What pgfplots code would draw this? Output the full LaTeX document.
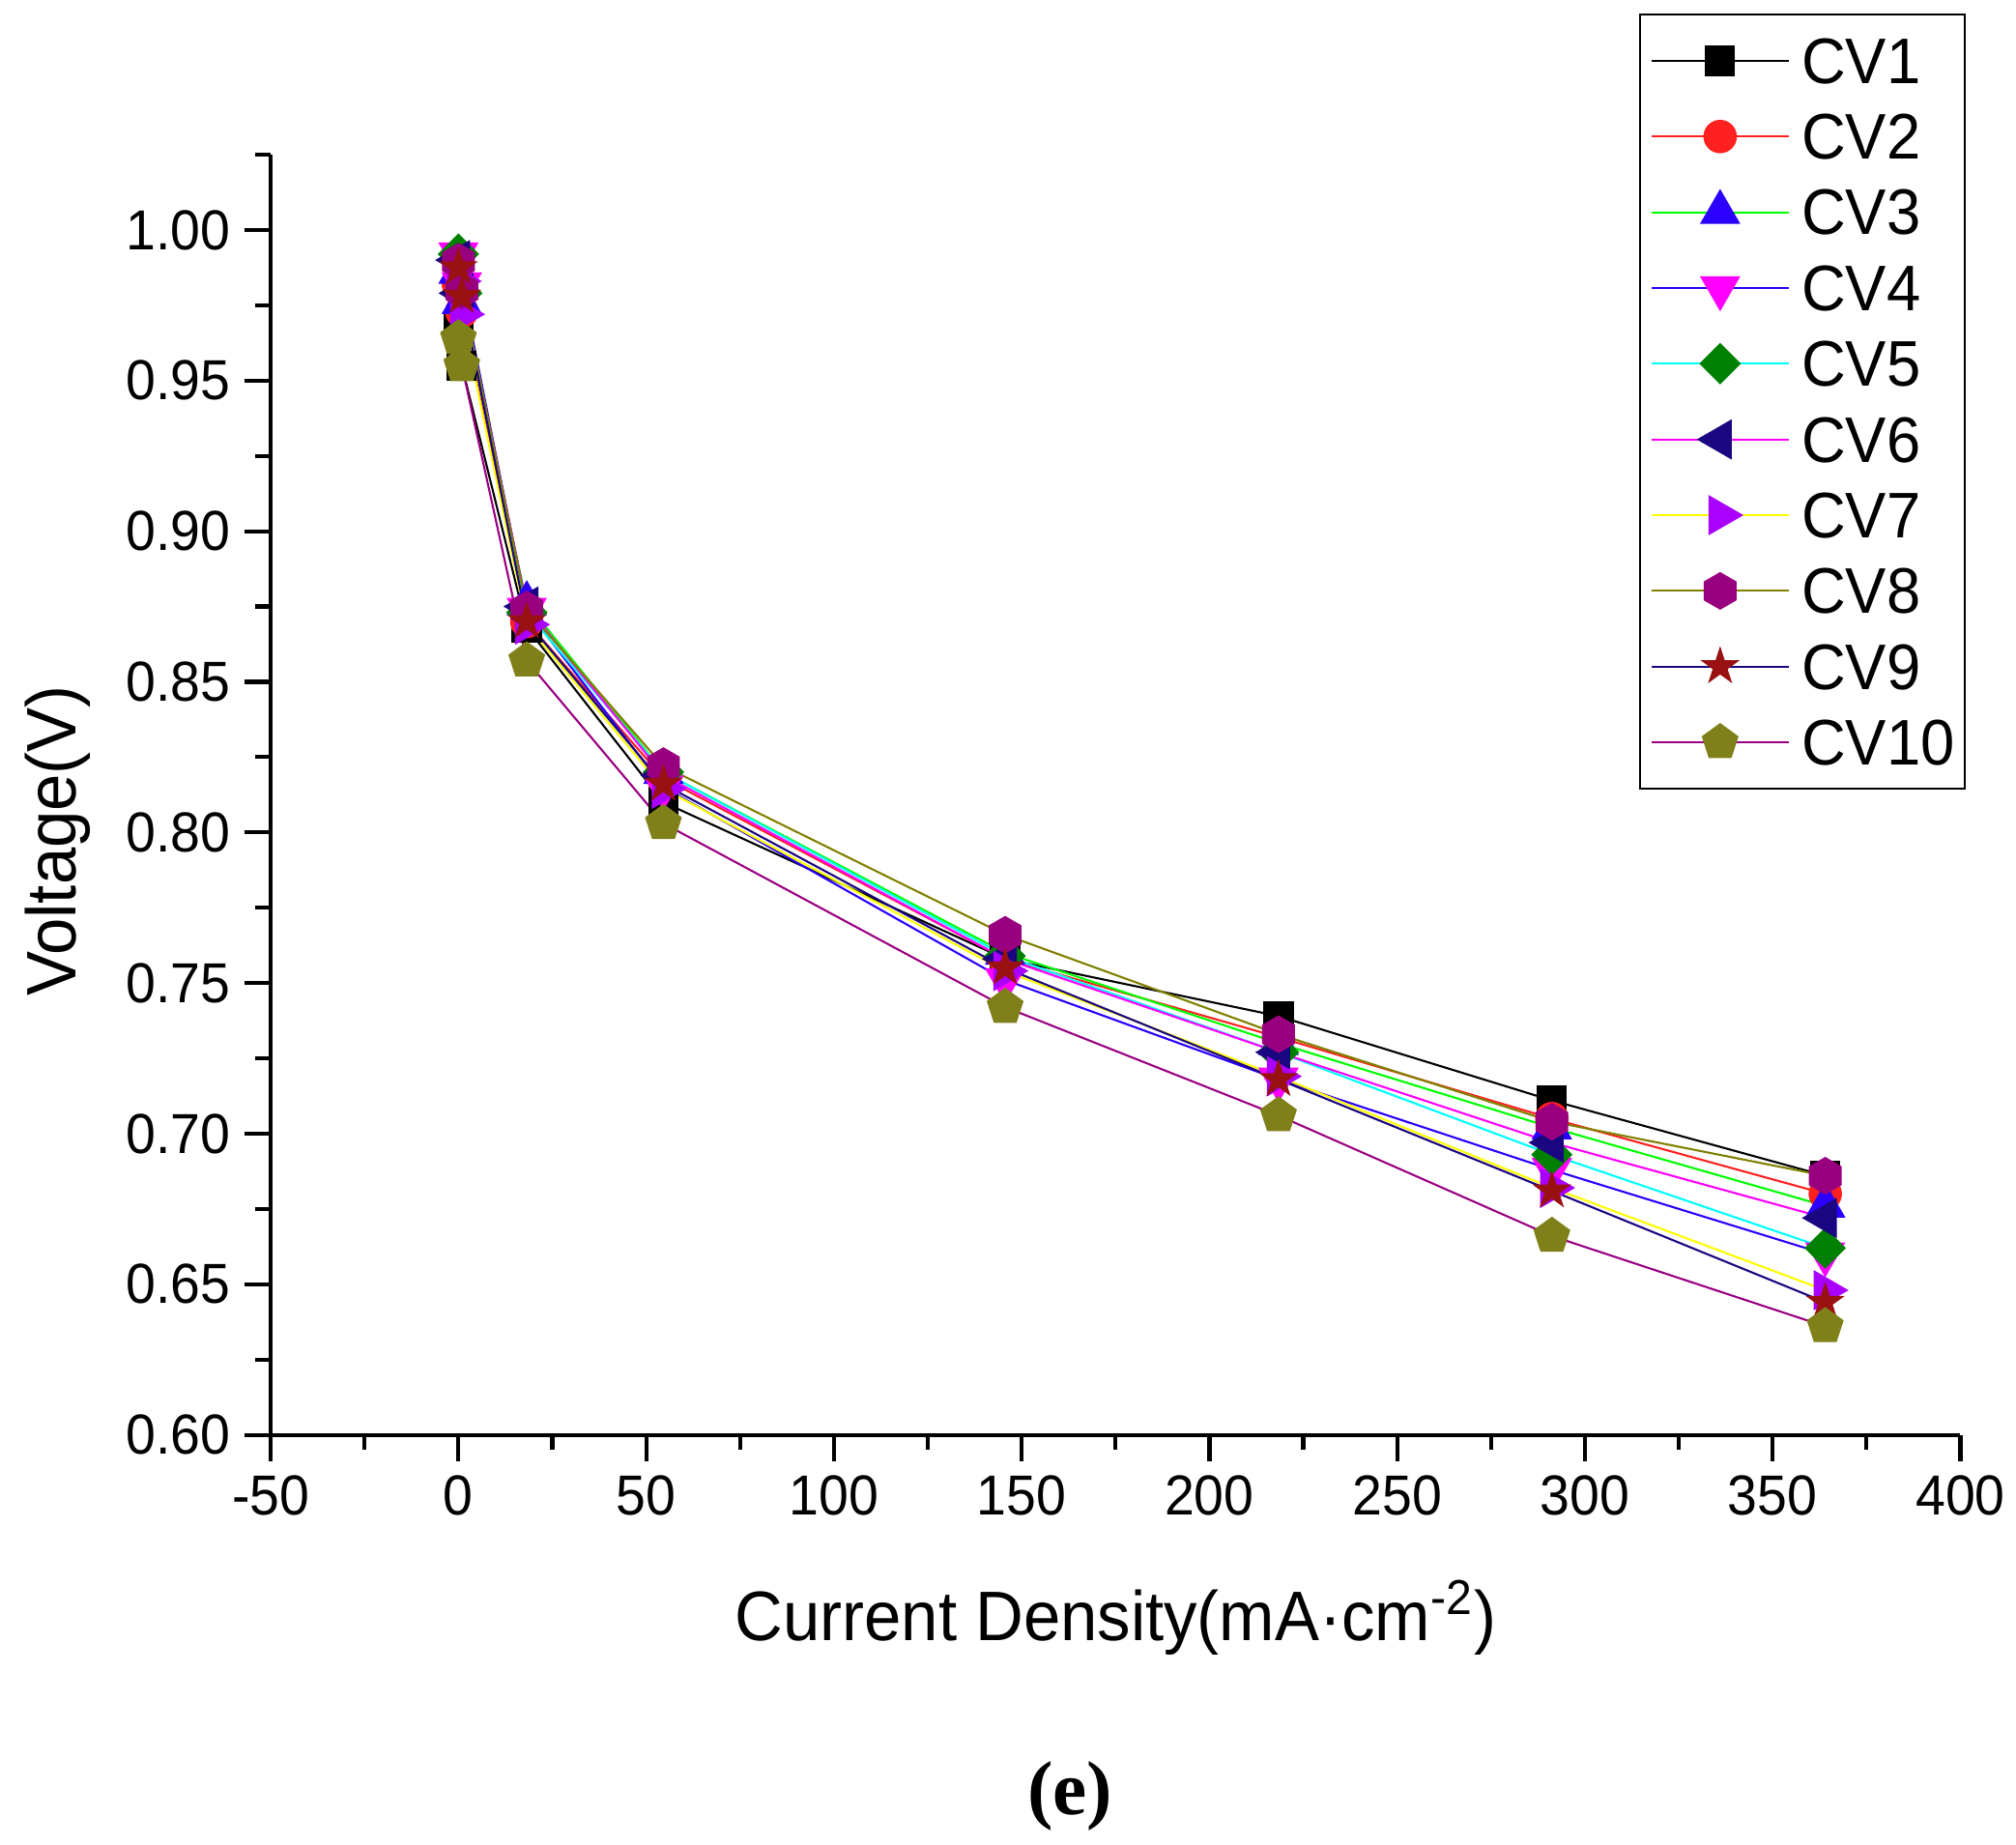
\documentclass[border=0pt]{standalone}
\usepackage{fontspec}
\setmainfont{Liberation Sans}[FakeStretch=0.95]
\newfontfamily\serifbold{Liberation Serif}
\usepackage{pgfplots}
\pgfplotsset{compat=1.18}
\usetikzlibrary{plotmarks}

\definecolor{cvred}{RGB}{255,32,32}
\definecolor{cvblue}{RGB}{43,0,255}
\definecolor{cvgreenline}{RGB}{0,255,0}
\definecolor{cvmagenta}{RGB}{255,0,255}
\definecolor{cvgreen}{RGB}{0,128,0}
\definecolor{cvcyan}{RGB}{0,255,255}
\definecolor{cvnavy}{RGB}{26,6,128}
\definecolor{cvyellow}{RGB}{255,255,0}
\definecolor{cvviolet}{RGB}{170,0,255}
\definecolor{cvoliveline}{RGB}{128,128,0}
\definecolor{cvpurple}{RGB}{153,0,128}
\definecolor{cvwine}{RGB}{153,17,17}
\definecolor{cvolive}{RGB}{128,128,26}

\pgfdeclareplotmark{hexa*}{%
  \pgfpathmoveto{\pgfpointpolar{90}{\pgfplotmarksize}}%
  \pgfpathlineto{\pgfpointpolar{150}{\pgfplotmarksize}}%
  \pgfpathlineto{\pgfpointpolar{210}{\pgfplotmarksize}}%
  \pgfpathlineto{\pgfpointpolar{270}{\pgfplotmarksize}}%
  \pgfpathlineto{\pgfpointpolar{330}{\pgfplotmarksize}}%
  \pgfpathlineto{\pgfpointpolar{30}{\pgfplotmarksize}}%
  \pgfpathclose\pgfusepathqfillstroke}
\pgfdeclareplotmark{fstar*}{%
  \pgfpathmoveto{\pgfpointpolar{90}{\pgfplotmarksize}}%
  \pgfpathlineto{\pgfpointpolar{126}{0.382*\pgfplotmarksize}}%
  \pgfpathlineto{\pgfpointpolar{162}{\pgfplotmarksize}}%
  \pgfpathlineto{\pgfpointpolar{198}{0.382*\pgfplotmarksize}}%
  \pgfpathlineto{\pgfpointpolar{234}{\pgfplotmarksize}}%
  \pgfpathlineto{\pgfpointpolar{270}{0.382*\pgfplotmarksize}}%
  \pgfpathlineto{\pgfpointpolar{306}{\pgfplotmarksize}}%
  \pgfpathlineto{\pgfpointpolar{342}{0.382*\pgfplotmarksize}}%
  \pgfpathlineto{\pgfpointpolar{18}{\pgfplotmarksize}}%
  \pgfpathlineto{\pgfpointpolar{54}{0.382*\pgfplotmarksize}}%
  \pgfpathclose\pgfusepathqfillstroke}
\pgfdeclareplotmark{sqdiamond*}{%
  \pgfpathmoveto{\pgfqpoint{0pt}{\pgfplotmarksize}}%
  \pgfpathlineto{\pgfqpoint{\pgfplotmarksize}{0pt}}%
  \pgfpathlineto{\pgfqpoint{0pt}{-\pgfplotmarksize}}%
  \pgfpathlineto{\pgfqpoint{-\pgfplotmarksize}{0pt}}%
  \pgfpathclose\pgfusepathqfillstroke}

\pgfplotstableread{
x     cv1    cv2    cv3    cv4    cv5    cv6    cv7    cv8    cv9    cv10
0     0.967  0.982  0.986  0.992  0.992  0.990  0.983  0.9895 0.9875 0.964
0.9   0.955  0.973  0.976  0.982  0.979  0.979  0.972  0.980  0.978  0.955
18.2  0.868  0.870  0.876  0.874  0.873  0.875  0.869  0.874  0.870  0.857
54.6  0.810  0.818  0.820  0.815  0.820  0.819  0.8145 0.822  0.816  0.803
145.6 0.758  0.758  0.760  0.751  0.759  0.758  0.754  0.766  0.755  0.742
218.4 0.739  0.732  0.730  0.718  0.727  0.727  0.719  0.733  0.718  0.706
291.2 0.711  0.705  0.702  0.688  0.693  0.697  0.682  0.704  0.681  0.666
364   0.686  0.680  0.676  0.660  0.662  0.672  0.648  0.686  0.644  0.636
}\datatable

\begin{document}
\begin{tikzpicture}
\path[use as bounding box] (-67.2pt,-101.8pt) rectangle (433.3pt,356.2pt);
\begin{axis}[
  scale only axis, width=419.5pt, height=317.8pt,
  xmin=-50, xmax=400, ymin=0.6, ymax=1.025,
  axis x line*=bottom, axis y line*=left,
  axis line style={line width=1pt, black},
  xtick={-50,0,50,100,150,200,250,300,350,400},
  minor xtick={-25,25,75,125,175,225,275,325,375},
  ytick={0.60,0.65,0.70,0.75,0.80,0.85,0.90,0.95,1.00},
  minor ytick={0.625,0.675,0.725,0.775,0.825,0.875,0.925,0.975,1.025},
  tick align=outside,
  major tick length=6.5pt, minor tick length=3.8pt,
  every tick/.style={black, line width=1pt},
  tick label style={font=\fontsize{14}{16}\selectfont},
  /pgf/number format/assume math mode=true,
  yticklabel style={/pgf/number format/.cd, fixed, fixed zerofill, precision=2},
  xticklabel style={/pgf/number format/.cd, fixed, precision=0},
  every axis x label/.style={at={(axis description cs:0.5,0)}, anchor=center, yshift=-45.4pt, font=\fontsize{17.4}{20}\selectfont},
  every axis y label/.style={at={(axis description cs:-0.1259,0.464)}, anchor=center, rotate=90, font=\fontsize{17.4}{20}\selectfont},
  xlabel={Current Density(mA·cm\textsuperscript{-2})},
  ylabel={Voltage(V)},
  clip=false,
  legend cell align=left,
  legend style={at={(axis description cs:0.810,1.110)}, anchor=north west,
    draw=black, line width=0.5pt, inner xsep=2.6pt, inner ysep=2pt,
    font=\fontsize{16}{18}\selectfont, row sep=0pt, column sep=3pt,
    nodes={inner sep=0pt, text height=15pt, text depth=3.8pt}},
  legend image code/.code={\draw[mark repeat=2,mark phase=2,line width=0.5pt] plot coordinates {(0pt,0pt) (16.95pt,0pt) (33.9pt,0pt)};},
  every axis plot/.append style={line width=0.5pt},
]
\addplot[color=black, mark=square*, mark size=3.5pt, mark options={solid, fill=black, draw=black}] table[x=x,y=cv1] {\datatable};
\addlegendentry{CV1}
\addplot[color=cvred, mark=*, mark size=3.9pt, mark options={solid, fill=cvred, draw=cvred}] table[x=x,y=cv2] {\datatable};
\addlegendentry{CV2}
\addplot[color=cvgreenline, mark=triangle*, mark size=5.3pt, mark options={solid, fill=cvblue, draw=cvblue}] table[x=x,y=cv3] {\datatable};
\addlegendentry{CV3}
\addplot[color=cvblue, mark=triangle*, mark size=5.3pt, mark options={solid, rotate=180, fill=cvmagenta, draw=cvmagenta}] table[x=x,y=cv4] {\datatable};
\addlegendentry{CV4}
\addplot[color=cvcyan, mark=sqdiamond*, mark size=4.8pt, mark options={solid, fill=cvgreen, draw=cvgreen}] table[x=x,y=cv5] {\datatable};
\addlegendentry{CV5}
\addplot[color=cvmagenta, mark=triangle*, mark size=5.3pt, mark options={solid, rotate=90, fill=cvnavy, draw=cvnavy}] table[x=x,y=cv6] {\datatable};
\addlegendentry{CV6}
\addplot[color=cvyellow, mark=triangle*, mark size=5.3pt, mark options={solid, rotate=-90, fill=cvviolet, draw=cvviolet}] table[x=x,y=cv7] {\datatable};
\addlegendentry{CV7}
\addplot[color=cvoliveline, mark=hexa*, mark size=4.4pt, mark options={solid, fill=cvpurple, draw=cvpurple}] table[x=x,y=cv8] {\datatable};
\addlegendentry{CV8}
\addplot[color=cvnavy, mark=fstar*, mark size=4.3pt, mark options={solid, fill=cvwine, draw=cvwine}] table[x=x,y=cv9] {\datatable};
\addlegendentry{CV9}
\addplot[color=cvpurple, mark=pentagon*, mark size=4.5pt, mark options={solid, fill=cvolive, draw=cvolive}] table[x=x,y=cv10] {\datatable};
\addlegendentry{CV10}
\end{axis}
\node[font=\serifbold\bfseries\fontsize{19}{22}\selectfont] at (198.4pt,-89.6pt) {(e)};
\end{tikzpicture}
\end{document}
